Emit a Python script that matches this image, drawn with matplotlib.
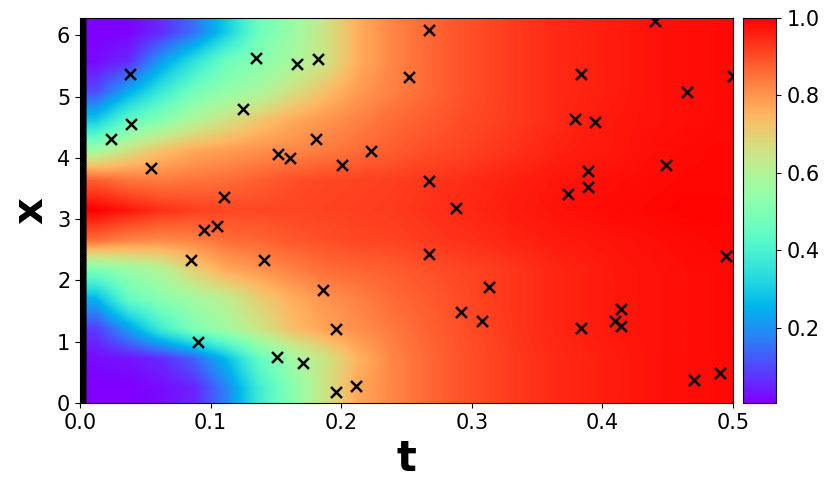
import numpy as np
import matplotlib
matplotlib.use('Agg')
import matplotlib.pyplot as plt

# predicted field u(t, x)
# columns: t cell centres 0.0125 ... 0.4875 (step 0.025)
# rows: x cell centres (j + 0.5) * 2pi / 13, bottom to top
t_max = 0.5
x_max = 2 * np.pi

u_rows = [
    [0.005, 0.005, 0.02, 0.05, 0.18, 0.38, 0.52, 0.65, 0.77, 0.82, 0.86, 0.89, 0.91, 0.93, 0.945, 0.955, 0.965, 0.975, 0.98, 0.985],
    [0.02, 0.03, 0.06, 0.13, 0.27, 0.45, 0.56, 0.65, 0.75, 0.82, 0.86, 0.89, 0.91, 0.93, 0.945, 0.955, 0.965, 0.975, 0.98, 0.985],
    [0.08, 0.22, 0.38, 0.50, 0.57, 0.65, 0.73, 0.78, 0.81, 0.84, 0.87, 0.895, 0.915, 0.935, 0.95, 0.96, 0.97, 0.975, 0.98, 0.985],
    [0.25, 0.45, 0.52, 0.57, 0.62, 0.70, 0.76, 0.80, 0.83, 0.86, 0.88, 0.90, 0.92, 0.935, 0.95, 0.96, 0.97, 0.975, 0.98, 0.985],
    [0.50, 0.55, 0.60, 0.70, 0.77, 0.80, 0.83, 0.86, 0.87, 0.88, 0.895, 0.91, 0.92, 0.935, 0.95, 0.96, 0.97, 0.975, 0.98, 0.985],
    [0.86, 0.83, 0.82, 0.83, 0.86, 0.87, 0.89, 0.90, 0.91, 0.915, 0.925, 0.935, 0.945, 0.955, 0.965, 0.97, 0.975, 0.98, 0.985, 0.99],
    [1.0, 0.97, 0.94, 0.92, 0.91, 0.91, 0.91, 0.915, 0.92, 0.925, 0.935, 0.945, 0.955, 0.965, 0.975, 0.98, 0.985, 0.99, 0.995, 0.995],
    [0.88, 0.85, 0.84, 0.85, 0.86, 0.88, 0.90, 0.91, 0.915, 0.92, 0.93, 0.94, 0.95, 0.96, 0.97, 0.975, 0.98, 0.985, 0.99, 0.99],
    [0.57, 0.66, 0.73, 0.77, 0.79, 0.81, 0.82, 0.84, 0.86, 0.88, 0.90, 0.91, 0.925, 0.94, 0.955, 0.965, 0.97, 0.98, 0.985, 0.99],
    [0.30, 0.45, 0.52, 0.60, 0.66, 0.72, 0.77, 0.80, 0.83, 0.86, 0.88, 0.90, 0.915, 0.93, 0.945, 0.96, 0.97, 0.975, 0.98, 0.985],
    [0.10, 0.24, 0.37, 0.48, 0.54, 0.58, 0.66, 0.73, 0.79, 0.83, 0.86, 0.89, 0.91, 0.93, 0.945, 0.955, 0.965, 0.975, 0.98, 0.985],
    [0.02, 0.06, 0.22, 0.35, 0.47, 0.52, 0.58, 0.65, 0.76, 0.82, 0.86, 0.89, 0.91, 0.93, 0.945, 0.955, 0.965, 0.975, 0.98, 0.985],
    [0.005, 0.01, 0.06, 0.15, 0.30, 0.47, 0.55, 0.65, 0.76, 0.82, 0.86, 0.89, 0.91, 0.93, 0.945, 0.955, 0.965, 0.975, 0.98, 0.985],
]

# collocation points
t_col = [0.038, 0.024, 0.039, 0.054, 0.125, 0.135, 0.166, 0.182, 0.267, 0.181,
         0.152, 0.161, 0.201, 0.223, 0.252, 0.110, 0.105, 0.095, 0.085, 0.090,
         0.141, 0.186, 0.196, 0.151, 0.171, 0.196, 0.211, 0.267, 0.288, 0.267,
         0.313, 0.292, 0.308, 0.384, 0.379, 0.394, 0.374, 0.389, 0.389, 0.384,
         0.410, 0.414, 0.414, 0.440, 0.465, 0.449, 0.500, 0.495, 0.470, 0.490]
x_col = [5.37, 4.31, 4.56, 3.83, 4.80, 5.63, 5.53, 5.61, 6.08, 4.31,
         4.07, 3.99, 3.89, 4.12, 5.32, 3.36, 2.89, 2.82, 2.33, 1.00,
         2.33, 1.85, 1.20, 0.75, 0.66, 0.18, 0.28, 3.62, 3.18, 2.43,
         1.90, 1.48, 1.33, 5.37, 4.64, 4.59, 3.41, 3.79, 3.53, 1.23,
         1.33, 1.54, 1.25, 6.24, 5.08, 3.88, 5.34, 2.40, 0.37, 0.49]

# initial condition points along t = 0
x_init = np.linspace(0, x_max, 200)
t_init = np.zeros_like(x_init)

fig = plt.figure(figsize=(8.28, 4.88), dpi=100)
ax = fig.add_axes([0.0966, 0.1742, 0.7886, 0.789])
cax = fig.add_axes([0.8977, 0.1742, 0.0401, 0.789])

im = ax.imshow(np.array(u_rows), origin='lower', aspect='auto', cmap='rainbow',
               extent=[0, t_max, 0, x_max], interpolation='bilinear',
               interpolation_stage='data', vmin=0.005, vmax=1.0)

ax.scatter(t_init, x_init, marker='x', c='black', s=62, linewidths=1.8)
ax.scatter(t_col, x_col, marker='x', c='black', s=62, linewidths=1.8)

ax.set_xlim(0, t_max)
ax.set_ylim(0, x_max)
ax.set_xlabel('t', fontsize=30, fontweight='bold')
ax.set_ylabel('x', fontsize=30, fontweight='bold')
ax.tick_params(labelsize=15)

cb = fig.colorbar(im, cax=cax)
cb.ax.tick_params(labelsize=15)

plt.savefig('out.png', dpi=100)
